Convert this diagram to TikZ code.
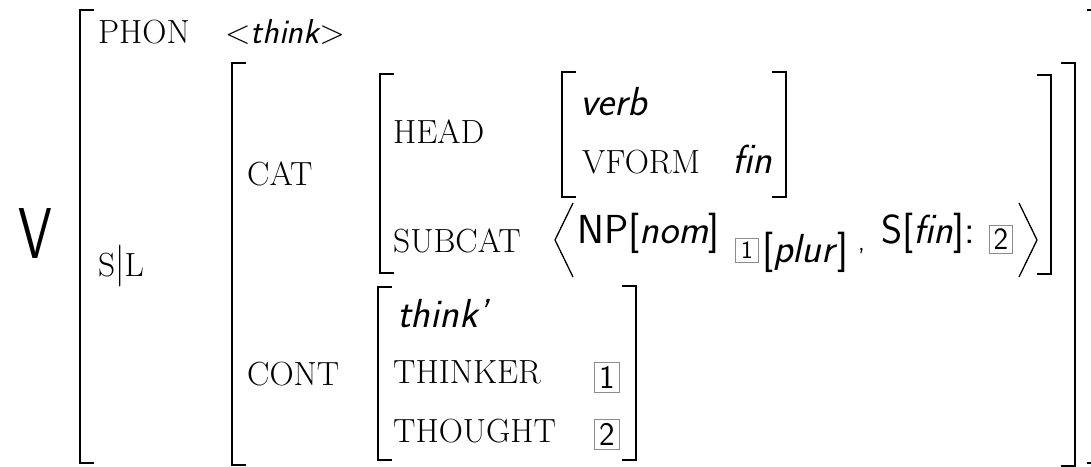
\documentclass[tikz,border=0pt]{standalone}
\usepackage{fontspec}
\usetikzlibrary{positioning}
\tikzset{
    feat/.style={anchor=base west, inner sep=0pt, font=\fontsize{33.5}{40}\selectfont},
    sval/.style={anchor=base west, inner sep=0pt, font=\fontsize{40.5}{46}\selectfont\sffamily},
    ival/.style={anchor=base west, inner sep=0pt, font=\fontsize{40.5}{46}\selectfont\sffamily\itshape},
    tagbox/.style={draw=black!45, line width=0.7pt, inner sep=0pt, minimum width=25pt, minimum height=30pt, font=\fontsize{33}{33}\selectfont\sffamily},
    brack/.style={line width=2.7pt},
    angl/.style={line width=1.3pt}
}
\begin{document}
\begin{tikzpicture}[x=1pt, y=-1pt]
    \useasboundingbox (0,0) rectangle (1091,466);
    % category label
    \node (cat_v) at (35,234) {\fontsize{72}{72}\selectfont\sffamily\scalebox{0.75}[1]{V}};
    % outer matrix
    \node (phon) [feat] at (98,43) {PHON};
    \node (phonval) [feat] at (225,43) {<{\fontsize{34.5}{40}\selectfont\sffamily\itshape think}>};
    \node (sl) [feat] at (98,276) {S\raisebox{0pt}{\scalebox{1}[1.25]{|}}L};
    \draw [brack] (94,10) -- (80,10) -- (80,463) -- (94,463);
    \draw [brack] (1087,10) -- (1101,10) -- (1101,463) -- (1087,463);
    % S|L value
    \node (cat) [feat] at (247,185) {CAT};
    \node (cont) [feat] at (247,385) {CONT};
    \draw [brack] (246,63) -- (232,63) -- (232,465) -- (246,465);
    \draw [brack] (1061,63) -- (1075,63) -- (1075,466) -- (1061,466);
    % CAT value
    \node (head) [feat] at (393,143) {HEAD};
    \node (subcat) [feat] at (393,252) {SUBCAT};
    \draw [brack] (394,74) -- (380,74) -- (380,273) -- (394,273);
    \draw [brack] (1037,75) -- (1051,75) -- (1051,274) -- (1037,274);
    % HEAD value
    \node (verb) [ival] at (580,115) {verb};
    \node (vform) [feat] at (582,173) {VFORM};
    \node (fin) [ival] at (732,173) {fin};
    \draw [brack] (576,72) -- (562,72) -- (562,197) -- (576,197);
    \draw [brack] (772,72) -- (786,72) -- (786,197) -- (772,197);
    % SUBCAT list
    \draw [angl] (573,203) -- (555,240) -- (573,277);
    \node (np) [sval] at (577,243) {NP[\textit{nom}]};
    \node (tag_a) [tagbox, minimum width=23pt, minimum height=24pt, font=\fontsize{25}{25}\selectfont\sffamily] at (747,250) {1};
    \node (plur) [sval] at (762,262) {[\textit{plur}]};
    \node (comma) [sval, font=\fontsize{26}{30}\selectfont\sffamily] at (858,250) {,};
    \node (sfin) [sval] at (881,243) {S[\textit{fin}]:};
    \node (tag_b) [tagbox, minimum width=23pt, minimum height=28pt, font=\fontsize{31}{31}\selectfont\sffamily] at (1001,239) {2};
    \draw [angl] (1019,203) -- (1037,240) -- (1019,277);
    % CONT value
    \node (think) [ival] at (397,327) {think'};
    \node (thinker) [feat] at (393,383) {THINKER};
    \node (thought) [feat] at (393,442) {THOUGHT};
    \node (tag_c) [tagbox] at (607,377) {1};
    \node (tag_d) [tagbox] at (607,434) {2};
    \draw [brack] (392,287) -- (378,287) -- (378,460) -- (392,460);
    \draw [brack] (622,286) -- (636,286) -- (636,460) -- (622,460);
\end{tikzpicture}
\end{document}
